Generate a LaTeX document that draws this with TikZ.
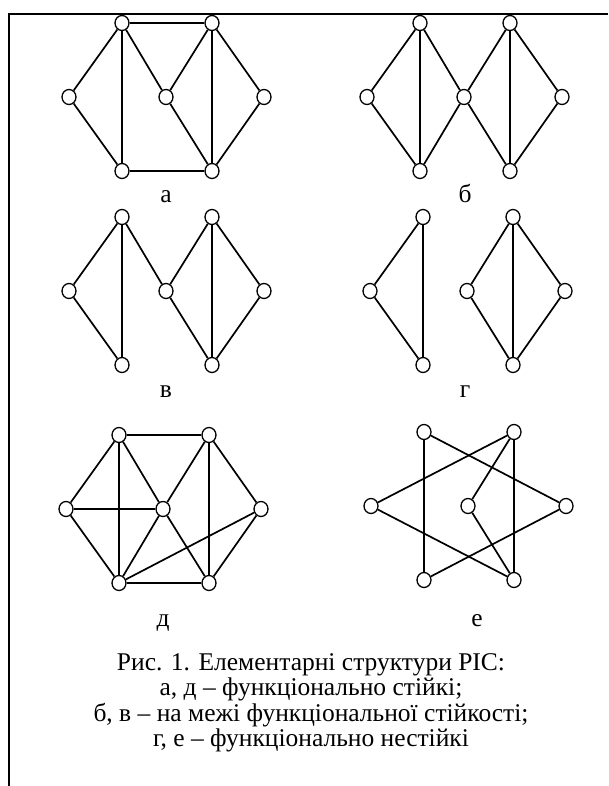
\documentclass[tikz,border=0pt]{standalone}
\usepackage{fontspec}
\setmainfont{Liberation Serif}
\usetikzlibrary{shapes.geometric}

\tikzset{
  vertex/.style={ellipse, draw, fill=white, line width=1.3pt,
    minimum width=14pt, minimum height=15pt, inner sep=0pt},
  edge/.style={line width=1.7pt},
  capfont/.style={font=\fontsize{25.5}{25.3}\selectfont},
  panellabel/.style={anchor=base, capfont},
}

% seven vertices of one panel, placed round its middle vertex M
\newcommand{\panelvertices}{%
  \foreach \vname/\vpos in {L/{(-97,0)}, TL/{(-44,-74)}, M/{(0,0)},
      TR/{(46,-74)}, R/{(98,0)}, BL/{(-44,74)}, BR/{(46,74)}}
    \node[vertex] (\vname) at \vpos {};
}

\begin{document}
\begin{tikzpicture}[x=1pt, y=-1pt]

\useasboundingbox (0,0) rectangle (608,786);

% frame
\draw[line width=2pt] (9,786) -- (9,14) -- (608,14);

%------------------ PANEL a ------------------%
\begin{scope}[shift={(166,97)}, name prefix=pa-]
  \panelvertices
  \foreach \u/\v in {L/TL, L/BL, TL/BL, TL/TR, TL/M, TR/M, TR/BR, TR/R,
      M/BR, R/BR, BL/BR}
    \draw[edge] (\u) -- (\v);
  \node[panellabel] (lbl) at (0,106) {а};
\end{scope}

%------------------ PANEL b ------------------%
\begin{scope}[shift={(464,97)}, name prefix=pb-]
  \panelvertices
  \foreach \u/\v in {L/TL, L/BL, TL/BL, TL/M, BL/M, M/TR, M/BR, TR/BR,
      TR/R, R/BR}
    \draw[edge] (\u) -- (\v);
  \node[panellabel] (lbl) at (1,106) {б};
\end{scope}

%------------------ PANEL v ------------------%
\begin{scope}[shift={(166,291)}, name prefix=pv-]
  \panelvertices
  \foreach \u/\v in {L/TL, L/BL, TL/BL, TL/M, M/TR, M/BR, TR/BR, TR/R, R/BR}
    \draw[edge] (\u) -- (\v);
  \node[panellabel] (lbl) at (0,106.5) {в};
\end{scope}

%------------------ PANEL g ------------------%
\begin{scope}[shift={(467,291)}, name prefix=pg-]
  \panelvertices
  \foreach \u/\v in {L/TL, L/BL, TL/BL, M/TR, M/BR, TR/BR, TR/R, R/BR}
    \draw[edge] (\u) -- (\v);
  \node[panellabel] (lbl) at (-2,106.5) {г};
\end{scope}

%------------------ PANEL d ------------------%
\begin{scope}[shift={(163,509)}, name prefix=pd-]
  \panelvertices
  \foreach \u/\v in {TL/TR, TL/L, TL/BL, TL/M, L/M, L/BL, TR/M, TR/BR,
      TR/R, M/BL, M/BR, BL/BR, BL/R, R/BR}
    \draw[edge] (\u) -- (\v);
  \node[panellabel] (lbl) at (0,117) {д};
\end{scope}

%------------------ PANEL e ------------------%
\begin{scope}[shift={(468,506)}, name prefix=pe-]
  \panelvertices
  \foreach \u/\v in {TL/BL, TL/R, TR/L, TR/M, TR/BR, L/BR, M/BR, BL/R}
    \draw[edge] (\u) -- (\v);
  \node[panellabel] (lbl) at (9,120.5) {е};
\end{scope}

% caption
\node[anchor=north, align=center, capfont]
  (caption) at (311,650)
  {Рис. 1. Елементарні структури РІС:\\
   а, д – функціонально стійкі;\\
   б, в – на межі функціональної стійкості;\\
   г, е – функціонально нестійкі};

\end{tikzpicture}
\end{document}
